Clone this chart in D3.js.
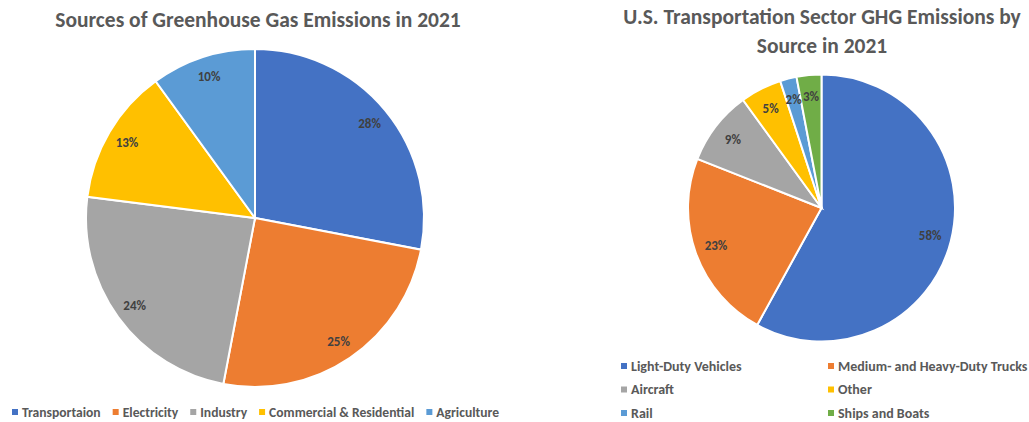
<!DOCTYPE html>
<html>
<head>
<meta charset="utf-8">
<script src="https://cdn.jsdelivr.net/npm/d3@7"></script>
<style>
  html, body { margin: 0; padding: 0; background: #fff; }
  svg { display: block; font-family: Carlito, "Open Sans", "Liberation Sans", sans-serif; }
</style>
</head>
<body>
<svg id="chart" width="1029" height="422"></svg>
<script>
// Sources of greenhouse gas emissions, 2021 (%)
const sectorNames = ["Transportaion", "Electricity", "Industry", "Commercial & Residential", "Agriculture"];
const sectorShares = [28, 25, 24, 13, 10];
const sectorColors = ["#4472C4", "#ED7D31", "#A5A5A5", "#FFC000", "#5B9BD5"];

// Transportation sector GHG emissions by source, 2021 (%)
const transportNames = ["Light-Duty Vehicles", "Medium- and Heavy-Duty Trucks", "Aircraft", "Other", "Rail", "Ships and Boats"];
const transportShares = [58, 23, 9, 5, 2, 3];
const transportColors = ["#4472C4", "#ED7D31", "#A5A5A5", "#FFC000", "#5B9BD5", "#70AD47"];

const svg = d3.select("#chart");

function drawPie(g, values, colors, radius, labelFrac) {
  const pie = d3.pie().sort(null).value(d => d);
  const arcs = pie(values);
  const arc = d3.arc().innerRadius(0).outerRadius(radius);
  const labelArc = d3.arc().innerRadius(radius * labelFrac).outerRadius(radius * labelFrac);
  g.selectAll("path.slice").data(arcs).join("path")
    .attr("class", "slice")
    .attr("d", arc)
    .attr("fill", (d, i) => colors[i])
    .attr("stroke", "#fff")
    .attr("stroke-width", 2);
  g.selectAll("text.lbl").data(arcs).join("text")
    .attr("class", "lbl")
    .attr("transform", d => `translate(${labelArc.centroid(d)})`)
    .attr("text-anchor", "middle")
    .attr("dominant-baseline", "central")
    .attr("font-size", 13)
    .attr("font-weight", "bold")
    .attr("fill", "#404040")
    .text(d => d.data + "%");
}

// Left chart
svg.append("text")
  .attr("x", 258).attr("y", 27)
  .attr("text-anchor", "middle")
  .attr("font-size", 21.5).attr("font-weight", "bold").attr("fill", "#595959")
  .text("Sources of Greenhouse Gas Emissions in 2021");

const left = svg.append("g").attr("transform", "translate(255,218)");
drawPie(left, sectorShares, sectorColors, 169, 0.88);

// Left legend (single row)
const legL = svg.append("g").attr("font-size", 13.6).attr("font-weight", 600);
let lx = 12;
sectorNames.forEach((name, i) => {
  const item = legL.append("g").attr("transform", `translate(${lx},412)`);
  item.append("rect").attr("x", 0).attr("y", -3).attr("width", 6).attr("height", 6).attr("fill", sectorColors[i]);
  const t = item.append("text").attr("x", 10).attr("y", 0).attr("dominant-baseline", "central").attr("fill", "#595959").text(name);
  lx += 10 + t.node().getComputedTextLength() + 12;
});

// Right chart
const rTitle = svg.append("text")
  .attr("text-anchor", "middle")
  .attr("font-size", 21.5).attr("font-weight", "bold").attr("fill", "#595959");
rTitle.append("tspan").attr("x", 822).attr("y", 24).text("U.S. Transportation Sector GHG Emissions by");
rTitle.append("tspan").attr("x", 822).attr("y", 53).text("Source in 2021");

const right = svg.append("g").attr("transform", "translate(821.5,208)");
drawPie(right, transportShares, transportColors, 133.5, 0.84);

// Right legend (two columns)
const legR = svg.append("g").attr("font-size", 14).attr("font-weight", 600);
transportNames.forEach((name, i) => {
  const col = i % 2, row = Math.floor(i / 2);
  const item = legR.append("g").attr("transform", `translate(${col ? 828 : 621},${366 + row * 23.5})`);
  item.append("rect").attr("x", 0).attr("y", -3).attr("width", 6).attr("height", 6).attr("fill", transportColors[i]);
  item.append("text").attr("x", 10).attr("y", 0).attr("dominant-baseline", "central").attr("fill", "#595959").text(name);
});
</script>
</body>
</html>
